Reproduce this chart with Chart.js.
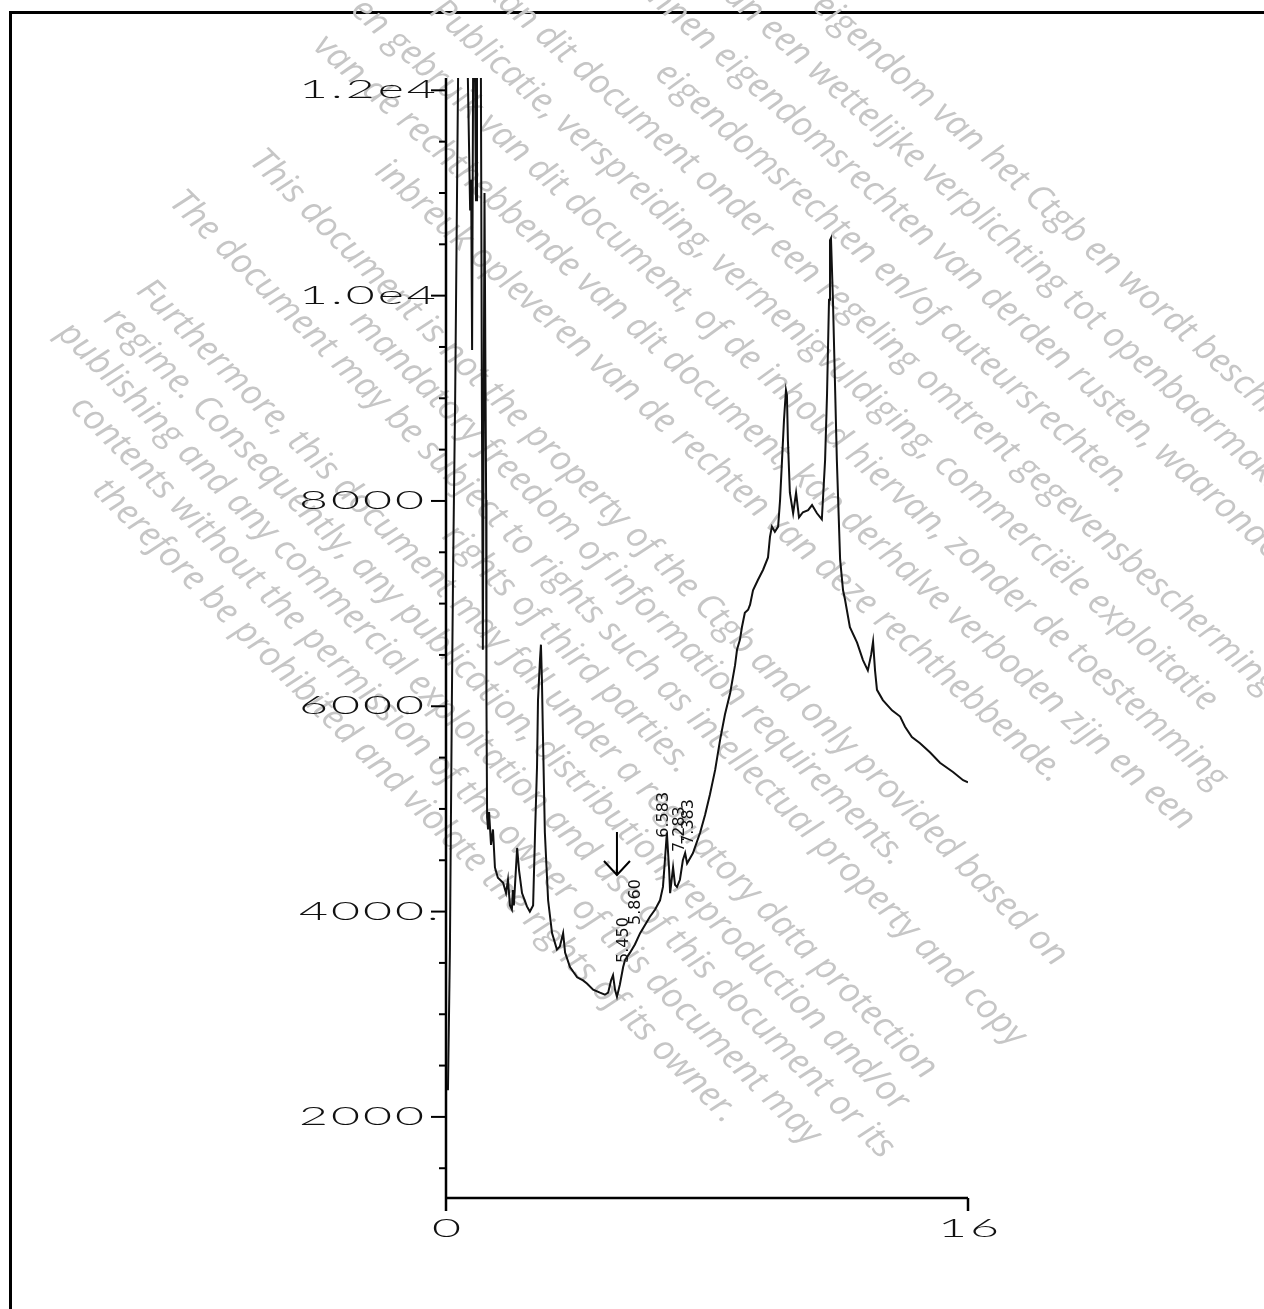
<!DOCTYPE html>
<html>
<head>
<meta charset="utf-8">
<script src="https://cdn.jsdelivr.net/npm/chart.js@4.4.1/dist/chart.umd.min.js"></script>
<style>
html,body{margin:0;padding:0;background:#fff;}
#wrap{position:relative;width:1264px;height:1309px;overflow:hidden;background:#fff;}
#frame{position:absolute;left:9px;top:11px;width:1300px;height:1400px;border-left:3px solid #000;border-top:3px solid #000;}
#c{position:absolute;left:0;top:0;}
</style>
</head>
<body>
<div id="wrap"><div id="frame"></div><canvas id="c" width="1264" height="1309"></canvas></div>
<script>
// ---- data (retention time in min, detector signal) ----
const times = [
  0.06,0.12,0.18,0.22,0.28,0.37,0.43,0.61,0.67,0.74,0.77,
  0.80,0.83,0.86,0.92,0.95,1.01,1.07,1.10,1.13,1.18,1.23,1.24,
  1.26,1.29,1.32,1.38,1.44,1.50,1.59,1.75,1.84,1.90,
  1.96,2.02,2.05,2.08,2.18,2.24,2.33,2.48,2.57,2.67,
  2.73,2.79,2.82,2.88,2.91,2.94,2.97,3.03,3.13,3.25,
  3.40,3.49,3.59,3.65,3.80,4.02,4.20,4.32,4.51,4.72,
  4.87,4.97,5.06,5.12,5.18,5.24,5.33,5.43,5.49,5.64,
  5.79,5.95,6.10,6.25,6.41,6.56,6.65,6.71,6.77,6.84,
  6.87,6.96,7.02,7.08,7.17,7.26,7.33,7.39,7.48,7.57,
  7.79,7.94,8.09,8.25,8.40,8.55,8.71,8.86,8.92,9.01,
  9.07,9.16,9.26,9.32,9.41,9.56,9.72,9.87,9.93,9.99,
  10.08,10.18,10.24,10.30,10.36,10.42,10.45,10.48,10.54,10.64,
  10.73,10.82,10.94,11.10,11.22,11.37,11.52,11.62,11.68,11.74,
  11.77,11.80,11.86,11.92,11.98,12.08,12.17,12.23,12.38,12.60,
  12.78,12.93,13.03,13.09,13.15,13.21,13.39,13.67,13.92,14.07,
  14.28,14.53,14.84,15.14,15.54,15.85,16.00
];
const signal = [
  2260,3630,6060,7400,8980,12120,13370,13370,12120,10830,11130,
  9470,12120,13370,10930,13370,13370,12120,8980,6550,11000,8010,6060,
  4920,4800,4970,4650,4800,4430,4330,4280,4180,4310,
  4060,4020,4210,4060,4620,4400,4180,4050,4000,4060,
  4770,5410,6060,6450,6600,6260,5740,4770,4110,3790,
  3630,3660,3790,3600,3460,3360,3330,3300,3240,3210,
  3190,3210,3330,3380,3240,3170,3290,3460,3530,3600,
  3680,3790,3870,3950,4020,4110,4240,4500,4770,4400,
  4180,4430,4260,4240,4310,4500,4570,4470,4520,4570,
  4770,4940,5140,5380,5670,5920,6130,6400,6550,6650,
  6770,6910,6940,6990,7130,7230,7330,7450,7650,7750,
  7700,7750,8010,8400,8790,9080,9030,8590,8080,7880,
  8080,7840,7890,7910,7960,7880,7820,8400,9050,9960,
  10540,10560,9960,9180,8400,7430,7130,7040,6770,6620,
  6450,6350,6500,6630,6350,6160,6060,5960,5900,5800,
  5700,5640,5550,5450,5360,5280,5260
];

// axis ticks
const yMajorTicks  = [2000, 4000, 6000, 8000, 10000, 12000];
const yMajorLabels = ['2000', '4000.', '6000', '8000', '1.0e4', '1.2e4'];
const yMinorTicks  = [1500, 2500, 3000, 3500, 4500, 5000, 5500, 6500, 7000, 7500, 8500, 9000, 9500, 10500, 11000, 11500];
const xTicks       = [0, 16];
const xLabels      = ['0', '16'];
const yRange = [1210, 12120];
const xRange = [0, 16];

// peak annotations (text, time, signal at label start)
const peakLabels       = ['5.450', '5.860', '6.583', '7.283', '7.383'];
const peakLabelTimes   = [5.46, 5.82, 6.68, 7.17, 7.45];
const peakLabelSignals = [3500, 3870, 4720, 4580, 4650];
const arrowTime = 5.24;
const arrowSignals = [4775, 4356];

// watermark text
const wmEnglish = [
  'This document is not the property of the Ctgb and only provided based on',
  'mandatory freedom of information requirements.',
  'The document may be subject to rights such as intellectual property and copy',
  'rights of third parties.',
  'Furthermore, this document may fall under a regulatory data protection',
  'regime. Consequently, any publication, distribution, reproduction and/or',
  'publishing and any commercial exploitation and use of this document or its',
  'contents without the permission of the owner of this document may',
  'therefore be prohibited and violate the rights of its owner.'
];
const wmDutch = [
  'Dit document is geen eigendom van het Ctgb en wordt beschikbaar gesteld',
  'op basis van een wettelijke verplichting tot openbaarmaking.',
  'Op dit document kunnen eigendomsrechten van derden rusten, waaronder intellectuele',
  'eigendomsrechten en/of auteursrechten.',
  'Bovendien kan dit document onder een regeling omtrent gegevensbescherming vallen.',
  'Publicatie, verspreiding, vermenigvuldiging, commerciële exploitatie',
  'en gebruik van dit document, of de inhoud hiervan, zonder de toestemming',
  'van de rechthebbende van dit document, kan derhalve verboden zijn en een',
  'inbreuk opleveren van de rechten van deze rechthebbende.'
];

// ---- drawing helpers ----
const AX_FONT = '300 25px Lato';
const AX_STRETCH = 2.0;
function stretchText(ctx, txt, x, y, align) {
  ctx.save();
  ctx.font = AX_FONT;
  try { ctx.letterSpacing = '1.5px'; } catch (e) {}
  ctx.textBaseline = 'middle';
  ctx.textAlign = 'left';
  ctx.fillStyle = '#111';
  const w = ctx.measureText(txt).width * AX_STRETCH;
  let x0 = x;
  if (align === 'center') x0 = x - w / 2;
  else if (align === 'right') x0 = x - w;
  ctx.translate(x0, y);
  ctx.scale(AX_STRETCH, 1);
  ctx.fillText(txt, 0, 0);
  ctx.restore();
}

function drawWatermark(ctx) {
  ctx.save();
  ctx.fillStyle = '#c6c6c6';
  ctx.textAlign = 'center';
  ctx.textBaseline = 'middle';
  let fs = 28;
  ctx.font = 'italic ' + fs + 'px "Open Sans"';
  fs = fs * 1140 / ctx.measureText(wmEnglish[0]).width;
  ctx.font = 'italic ' + fs.toFixed(2) + 'px "Open Sans"';
  ctx.save();
  ctx.rotate(Math.PI / 4);
  wmEnglish.forEach((line, i) => ctx.fillText(line, 860, -71 + 43 * i));
  ctx.restore();
  ctx.save();
  ctx.rotate(42 * Math.PI / 180);
  wmDutch.forEach((line, i) => ctx.fillText(line, 850, -547 + 52 * i));
  ctx.restore();
  ctx.restore();
}

const chromPlugin = {
  id: 'chrom',
  beforeDatasetsDraw(chart) {
    drawWatermark(chart.ctx);
  },
  afterDatasetsDraw(chart) {
    const ctx = chart.ctx;
    const a = chart.chartArea;
    const xs = chart.scales.x, ys = chart.scales.y;
    const x0 = xs.getPixelForValue(xRange[0]);
    const x1 = xs.getPixelForValue(xRange[1]);
    const yb = ys.getPixelForValue(yRange[0]);
    ctx.save();
    ctx.strokeStyle = '#000';
    ctx.lineWidth = 2.5;
    // axes
    ctx.beginPath();
    ctx.moveTo(x0, a.top); ctx.lineTo(x0, yb);
    ctx.moveTo(x0, yb); ctx.lineTo(x1, yb);
    ctx.stroke();
    // x ticks + labels
    xTicks.forEach((t, i) => {
      const px = xs.getPixelForValue(t);
      ctx.beginPath(); ctx.moveTo(px, yb); ctx.lineTo(px, yb + 13); ctx.stroke();
      stretchText(ctx, xLabels[i], px + 2, yb + 31, 'center');
    });
    // y ticks
    ctx.lineWidth = 2;
    yMinorTicks.forEach(v => {
      const py = ys.getPixelForValue(v);
      ctx.beginPath(); ctx.moveTo(x0 - 7, py); ctx.lineTo(x0, py); ctx.stroke();
    });
    yMajorTicks.forEach((v, i) => {
      const py = ys.getPixelForValue(v);
      ctx.beginPath(); ctx.moveTo(x0 - 15, py); ctx.lineTo(x0, py); ctx.stroke();
      stretchText(ctx, yMajorLabels[i], 299, py, 'left');
    });
    // peak labels (rotated)
    ctx.fillStyle = '#111';
    ctx.font = '16px "DejaVu Sans"';
    ctx.textAlign = 'left';
    ctx.textBaseline = 'middle';
    peakLabels.forEach((txt, i) => {
      const px = xs.getPixelForValue(peakLabelTimes[i]);
      const py = ys.getPixelForValue(peakLabelSignals[i]);
      ctx.save();
      ctx.translate(px, py);
      ctx.rotate(-Math.PI / 2);
      ctx.fillText(txt, 0, 0);
      ctx.restore();
    });
    // arrow
    const ax = xs.getPixelForValue(arrowTime);
    const ayT = ys.getPixelForValue(arrowSignals[0]);
    const ayB = ys.getPixelForValue(arrowSignals[1]);
    ctx.lineWidth = 2;
    ctx.beginPath();
    ctx.moveTo(ax, ayT); ctx.lineTo(ax, ayB);
    ctx.moveTo(ax - 13, ayB - 14); ctx.lineTo(ax, ayB); ctx.lineTo(ax + 13, ayB - 14);
    ctx.stroke();
    ctx.restore();
  }
};

new Chart(document.getElementById('c'), {
  type: 'line',
  data: {
    datasets: [{
      data: times.map((t, i) => ({ x: t, y: signal[i] })),
      borderColor: '#111',
      borderWidth: 2,
      pointRadius: 0,
      tension: 0,
      fill: false
    }]
  },
  options: {
    responsive: false,
    animation: false,
    events: [],
    layout: { padding: { left: 0, top: 78, right: 296, bottom: 0 } },
    plugins: { legend: { display: false }, tooltip: { enabled: false } },
    scales: {
      x: {
        type: 'linear', min: xRange[0], max: xRange[1],
        afterFit: s => { s.height = 111; },
        grid: { display: false }, border: { display: false },
        ticks: { display: false }
      },
      y: {
        type: 'linear', min: yRange[0], max: yRange[1],
        afterFit: s => { s.width = 446; },
        grid: { display: false }, border: { display: false },
        ticks: { display: false }
      }
    }
  },
  plugins: [chromPlugin]
});
</script>
</body>
</html>
